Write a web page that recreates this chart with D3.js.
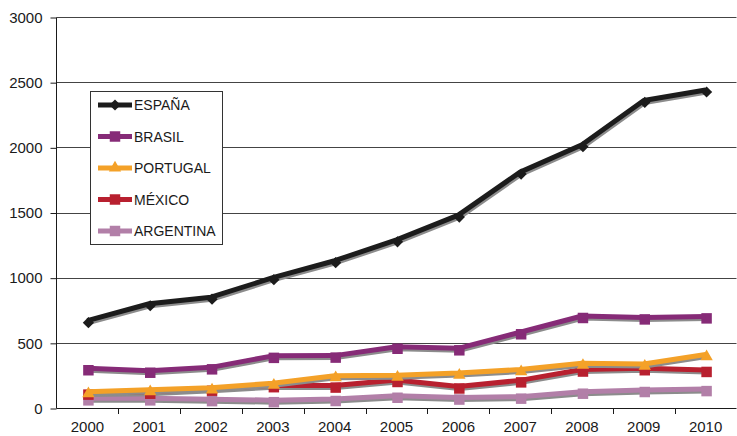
<!DOCTYPE html>
<html><head><meta charset="utf-8">
<script src="https://cdn.jsdelivr.net/npm/d3@7"></script>
<style>body{margin:0;background:#fff}svg{display:block}text{font-family:"Liberation Sans",Arial,sans-serif;fill:#1a1a1a}</style>
</head><body><svg id="c" width="737" height="436"></svg>
<script>
const years = ["2000","2001","2002","2003","2004","2005","2006","2007","2008","2009","2010"];
const espana    = [670, 800, 850, 1000, 1130, 1290, 1480, 1810, 2020, 2360, 2440];
const brasil    = [305, 286, 312, 400, 402, 470, 458, 581, 706, 695, 703];
const portugal  = [125, 140, 155, 190, 248, 252, 268, 295, 343, 337, 410];
const mexico    = [118, 125, 148, 175, 172, 215, 165, 212, 295, 305, 292];
const argentina = [74, 74, 68, 60, 69, 94, 80, 87, 125, 138, 145];
const seriesNames = ["ESPAÑA","BRASIL","PORTUGAL","MÉXICO","ARGENTINA"];
const yTicks = [0,500,1000,1500,2000,2500,3000];

const series = [
  {name: seriesNames[0], values: espana, color: "#1c1c1c", shape: "diamond"},
  {name: seriesNames[1], values: brasil, color: "#862b77", shape: "square"},
  {name: seriesNames[2], values: portugal, color: "#f4a128", shape: "triangle"},
  {name: seriesNames[3], values: mexico, color: "#b8202f", shape: "square"},
  {name: seriesNames[4], values: argentina, color: "#b27fa8", shape: "square"}
];

const svg = d3.select("#c");
const pL = 56.5, pR = 736.5, pT = 17, pB = 408;
const x = d3.scaleBand().domain(years).range([pL, pR]);
const y = d3.scaleLinear().domain([0, 3000]).range([pB, pT]);

// gridlines
svg.append("g").selectAll("line").data(yTicks.filter(d => d > 0)).join("line")
  .attr("x1", pL).attr("x2", pR)
  .attr("y1", d => Math.round(y(d)) + 0.5).attr("y2", d => Math.round(y(d)) + 0.5)
  .attr("stroke", "#444").attr("stroke-width", 1);

// y axis
const ya = svg.append("g").attr("transform", `translate(${pL},0.5)`)
  .call(d3.axisLeft(y).tickValues(yTicks).tickFormat(d3.format("d")).tickSize(6).tickPadding(8));
ya.select(".domain").attr("stroke", "#1a1a1a").attr("d", `M0,${pT}V${pB}`);
ya.selectAll(".tick line").attr("stroke", "#1a1a1a");
ya.selectAll("text").style("font-size", "15px").attr("fill", "#1a1a1a");

// x axis
const xa = svg.append("g").attr("transform", `translate(0,${pB + 0.5})`)
  .call(d3.axisBottom(x).tickSize(0).tickPadding(13));
xa.select(".domain").attr("stroke", "#1a1a1a").attr("d", `M${pL},0H${pR}`);
xa.selectAll("text").style("font-size", "15px").attr("fill", "#1a1a1a");
// boundary tick marks
svg.append("g").selectAll("line").data(years.slice(1)).join("line")
  .attr("x1", d => Math.round(x(d)) + 0.5).attr("x2", d => Math.round(x(d)) + 0.5)
  .attr("y1", pB).attr("y2", pB + 6).attr("stroke", "#1a1a1a");

const cx = d => x(d) + x.bandwidth() / 2;
const line = d3.line().x((v, i) => cx(years[i])).y(v => y(v));

function symbolPath(shape) {
  if (shape === "diamond") return d3.symbol(d3.symbolDiamond2, 80)();
  if (shape === "triangle") return d3.symbol(d3.symbolTriangle2, 110)();
  return d3.symbol(d3.symbolSquare2, 140)();
}

const drawOrder = series.slice().reverse();
drawOrder.forEach(s => {
  const g = svg.append("g");
  const sh = g.append("g").attr("transform", "translate(1,2)");
  sh.append("path").attr("d", line(s.values)).attr("fill", "none")
    .attr("stroke", "#8c8c8c").attr("stroke-width", 5).attr("stroke-linejoin", "round");
  sh.selectAll("path.m").data(s.values).join("path").attr("class", "m")
    .attr("d", symbolPath(s.shape))
    .attr("transform", (v, i) => `translate(${cx(years[i])},${y(v)})`)
    .attr("fill", "#8c8c8c");
  g.append("path").attr("d", line(s.values)).attr("fill", "none")
    .attr("stroke", s.color).attr("stroke-width", 5).attr("stroke-linejoin", "round");
  g.selectAll("path.m").data(s.values).join("path").attr("class", "m")
    .attr("d", symbolPath(s.shape))
    .attr("transform", (v, i) => `translate(${cx(years[i])},${y(v)})`)
    .attr("fill", s.color);
});

// legend
const lg = svg.append("g");
lg.append("rect").attr("x", 90.5).attr("y", 91.5).attr("width", 132).attr("height", 153)
  .attr("fill", "#fff").attr("stroke", "#333").attr("stroke-width", 1);
series.forEach((s, i) => {
  const yy = 105 + i * 31.5;
  const item = lg.append("g");
  item.append("line").attr("x1", 98).attr("x2", 132).attr("y1", yy).attr("y2", yy)
    .attr("stroke", s.color).attr("stroke-width", 5);
  item.append("path").attr("d", symbolPath(s.shape))
    .attr("transform", `translate(115,${yy})`).attr("fill", s.color);
  item.append("text").attr("x", 134).attr("y", yy).attr("dy", "0.36em")
    .style("font-size", "14px").text(s.name);
});
</script></body></html>
